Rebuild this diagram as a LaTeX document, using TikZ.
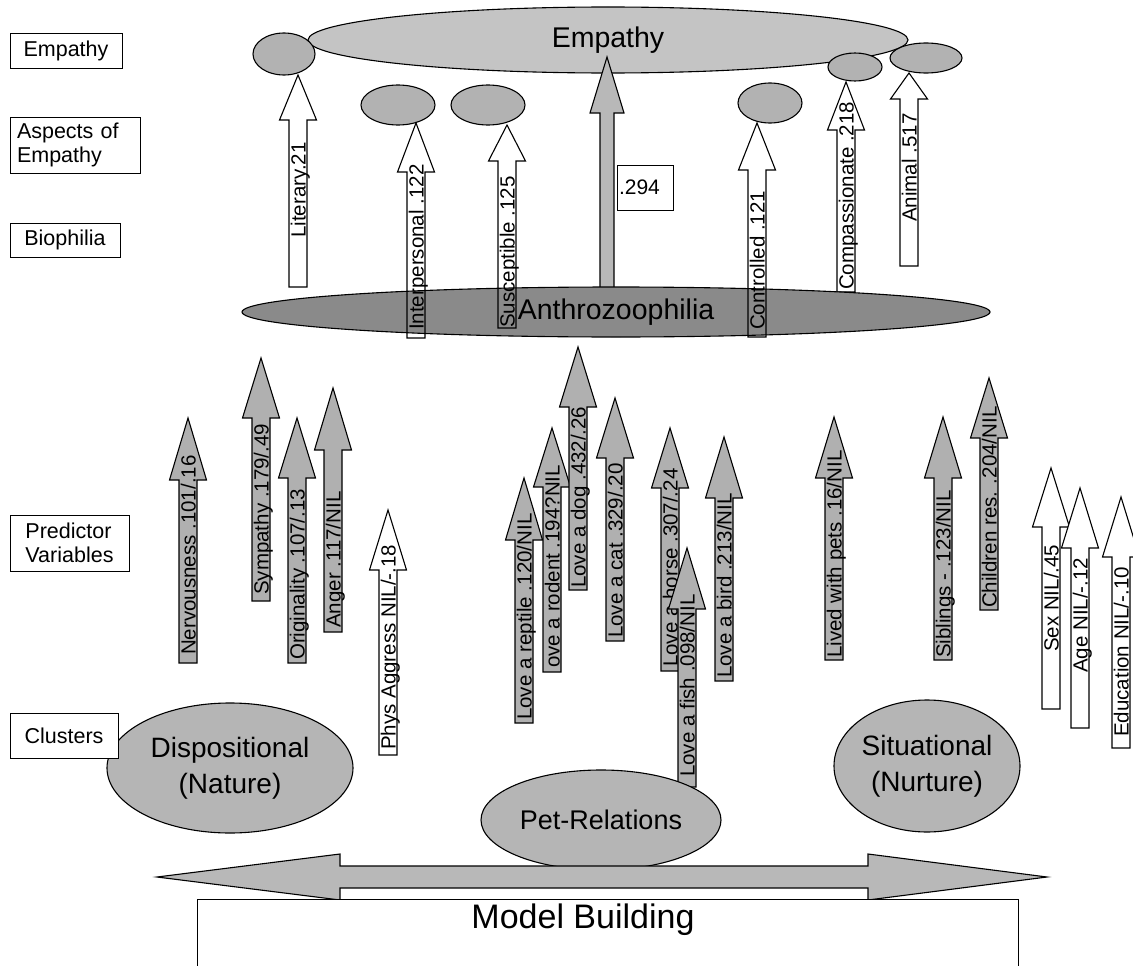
\documentclass[tikz,border=0pt]{standalone}
\usepackage{fontspec}
\setmainfont{Liberation Sans}
\usetikzlibrary{shapes.geometric}

\tikzset{
  lbl/.style={draw, line width=0.8pt, fill=white, inner sep=0pt,
    font=\fontsize{21.5}{24}\selectfont},
  blob/.style={ellipse, draw, line width=1.1pt, inner sep=0pt},
  predarrow/.style={draw, line width=1.1pt, fill=black!31},
  openarrow/.style={draw, line width=1.1pt, fill=white},
  outlinearrow/.style={draw, line width=1.1pt},
  arrowtext/.style={rotate=90, anchor=base west, inner sep=0pt,
    font=\fontsize{20.5}{23}\selectfont},
}

% block arrow pointing up: x, bottom, head base, tip
\newcommand{\arrowshape}[4]{(#1-9,#2) -- (#1-9,#3) -- (#1-18.5,#3) -- (#1,#4)
  -- (#1+18.5,#3) -- (#1+9,#3) -- (#1+9,#2) -- cycle}
% [style]{name}{x}{bottom}{head base}{tip}{text start}{text}
\newcommand{\blockarrow}[8][predarrow]{%
  \draw[#1] \arrowshape{#3}{#4}{#5}{#6};
  \node[arrowtext] (#2) at (#3+7.5,#7) {#8};
}

\begin{document}
\begin{tikzpicture}[x=1pt,y=-1pt]
  \useasboundingbox (0,0) rectangle (1133,966);

  % empathy and its aspects
  \node[blob, fill=black!23, minimum width=600pt, minimum height=66pt,
    font=\fontsize{28.5}{32}\selectfont] (empathy) at (608,40) {Empathy};
  \node[blob, fill=black!30, minimum width=62pt, minimum height=42pt] (litblob) at (284,54) {};
  \node[blob, fill=black!30, minimum width=74pt, minimum height=40pt] (interblob) at (398,105) {};
  \node[blob, fill=black!30, minimum width=74pt, minimum height=40pt] (suscblob) at (488,105) {};
  \node[blob, fill=black!30, minimum width=64pt, minimum height=40pt] (contblob) at (770,103) {};
  \node[blob, fill=black!30, minimum width=54pt, minimum height=28pt] (compblob) at (855,67) {};
  \node[blob, fill=black!30, minimum width=72pt, minimum height=30pt] (animblob) at (926,58) {};

  \draw[line width=1.1pt, fill=black!28] (600,295) -- (600,113) -- (590,113) -- (607,57)
    -- (624,113) -- (614,113) -- (614,295) -- cycle;
  \node[draw, line width=0.8pt, fill=white, minimum width=56pt, minimum height=45pt,
    text width=52pt, inner sep=2pt, align=left, font=\fontsize{21}{23}\selectfont]
    (coef) at (645,187.5) {.294};

  \fill[white] \arrowshape{416}{338}{172}{123};
  \fill[white] \arrowshape{507}{328}{161}{125};
  \fill[white] \arrowshape{757}{337}{170}{123};
  \blockarrow[openarrow]{literary}{298}{287}{120}{75}{238}{Literary.21}
  \blockarrow[openarrow]{compassionate}{846}{292}{130}{82}{290}{Compassionate .218}
  \blockarrow[openarrow]{animal}{909}{266}{99}{73}{222}{Animal .517}

  % biophilia
  \node[blob, fill=black!46, minimum width=748pt, minimum height=50pt,
    font=\fontsize{28.5}{32}\selectfont] (anthro) at (616,312) {Anthrozoophilia};
  \blockarrow[outlinearrow]{interpersonal}{416}{338}{172}{123}{330}{Interpersonal .122}
  \blockarrow[outlinearrow]{susceptible}{507}{328}{161}{125}{328}{Susceptible .125}
  \blockarrow[outlinearrow]{controlled}{757}{337}{170}{123}{330}{Controlled .121}

  % predictor variables
  \blockarrow{nerv}{188}{663}{480}{418}{655}{Nervousness .101/.16}
  \blockarrow{symp}{261}{601}{418}{358}{595}{Sympathy .179/.49}
  \blockarrow{orig}{297}{663}{478}{418}{660}{Originality .107/.13}
  \blockarrow{anger}{333}{632}{450}{388}{628}{Anger .117/NIL}
  \blockarrow[openarrow]{phys}{388}{755}{570}{510}{750}{Phys Aggress NIL/-.18}
  \blockarrow{reptile}{524}{723}{540}{478}{720}{Love a reptile .120/NIL}
  \blockarrow{rodent}{552}{672}{487}{428}{668}{ove a rodent .194?NIL}
  \blockarrow{dog}{578}{590}{407}{347}{588}{Love a dog .432/.26}
  \blockarrow{cat}{615}{641}{458}{398}{638}{Love a cat .329/.20}
  \blockarrow{horse}{670}{671}{488}{428}{667}{Love a horse .307/.24}
  \blockarrow{fish}{687}{787}{609}{548}{777}{Love a fish .098/NIL}
  \blockarrow{bird}{724}{681}{498}{437}{678}{Love a bird .213/NIL}
  \blockarrow{pets}{834}{660}{478}{417}{658}{Lived with pets .16/NIL}
  \blockarrow{sibs}{943}{660}{478}{417}{658}{Siblings - .123/NIL}
  \blockarrow{kids}{989}{610}{438}{378}{608}{Children res. .204/NIL}
  \blockarrow[openarrow]{sex}{1051}{709}{527}{468}{652}{Sex NIL/.45}
  \blockarrow[openarrow]{age}{1080}{728}{548}{488}{673}{Age NIL/-.12}
  \blockarrow[openarrow]{educ}{1121}{748}{557}{497}{737}{Education NIL/-.10}

  % clusters
  \node[blob, fill=black!29, minimum width=246pt, minimum height=130pt, align=center,
    font=\fontsize{28}{36}\selectfont] (nature) at (230,768) {Dispositional\\(Nature)};
  \node[blob, fill=black!29, minimum width=240pt, minimum height=100pt,
    font=\fontsize{27}{32}\selectfont] (petrel) at (601,820) {Pet-Relations};
  \node[blob, fill=black!29, minimum width=186pt, minimum height=132pt, align=center,
    font=\fontsize{28}{36}\selectfont] (nurture) at (927,766) {Situational\\(Nurture)};

  % row labels
  \node[lbl, minimum width=112pt, minimum height=35pt] (rowemp) at (66,50.5) {Empathy};
  \node[lbl, minimum width=130pt, minimum height=56pt, text width=116pt, align=left,
    inner xsep=7pt] (rowasp) at (75,145) {Aspects of\\Empathy};
  \node[lbl, minimum width=110pt, minimum height=34pt] (rowbio) at (65,240) {Biophilia};
  \node[lbl, minimum width=119pt, minimum height=56pt, align=left] (rowpred) at (69.5,543)
    {Predictor\\Variables};
  \node[lbl, minimum width=108pt, minimum height=45pt] (rowclu) at (64,735.5) {Clusters};

  % model building
  \draw[line width=1.1pt, fill=black!28] (157,877) -- (340,854) -- (340,866) -- (868,866)
    -- (868,854) -- (1047,877) -- (868,900) -- (868,888) -- (340,888) -- (340,900) -- cycle;
  \node[draw, line width=0.8pt, fill=white, minimum width=821pt, minimum height=80pt,
    anchor=north west] (model) at (197,899) {};
  \node[anchor=base, font=\fontsize{34}{38}\selectfont] (modeltext) at (583,928) {Model Building};
\end{tikzpicture}
\end{document}
